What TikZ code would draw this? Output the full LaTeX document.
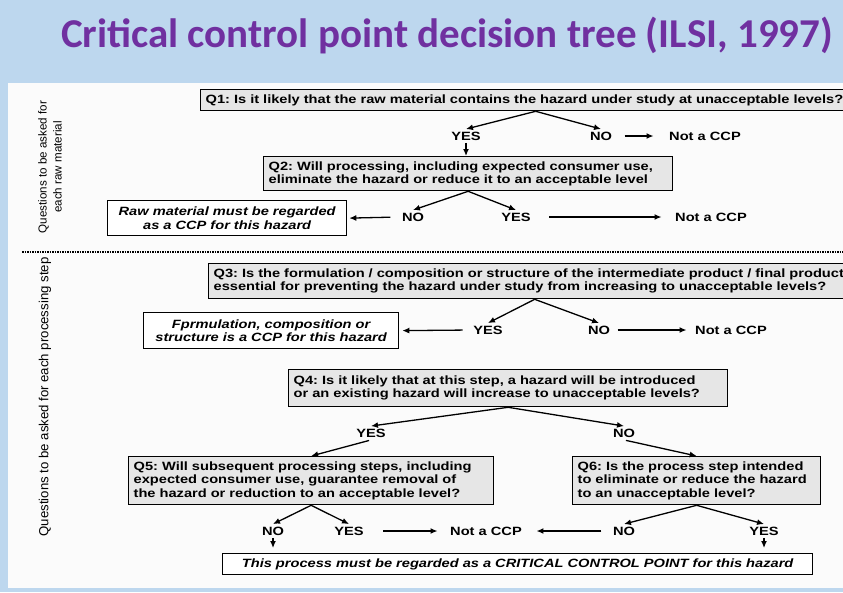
\documentclass[tikz,border=0pt]{standalone}
\usepackage{fontspec}
\usepackage{tikz}
\usetikzlibrary{arrows.meta}
\newfontfamily\arialfont[FakeStretch=1.22]{Liberation Sans}
\newfontfamily\sidefont{Liberation Sans}
\newfontfamily\titlefont{Carlito}
\definecolor{fond}{HTML}{BDD7EE}
\definecolor{titre}{HTML}{7030A0}
\definecolor{boite}{HTML}{E6E6E6}
\definecolor{panneau}{HTML}{FBFBFB}
\frenchspacing

\begin{document}
\begin{tikzpicture}[x=1pt, y=-1pt,
    qbox/.style={draw, line width=1.3pt, fill=boite, anchor=north west, align=left,
      inner xsep=5pt, inner ysep=0pt, font=\arialfont\bfseries\fontsize{12}{13.3}\selectfont},
    abox/.style={draw, line width=1.3pt, fill=white, anchor=north west, align=center,
      inner sep=0pt, font=\arialfont\bfseries\itshape\fontsize{12}{13.3}\selectfont},
    rep/.style={font=\arialfont\bfseries\fontsize{12}{13}\selectfont, inner sep=2.5pt},
    fleche/.style={-{Latex[length=7pt,width=6pt]}, line width=1.3pt}]
    \useasboundingbox (0,0) rectangle (843,592);
    \clip (0,0) rectangle (843,592);
    \fill[fond] (0,0) rectangle (843,592);
    \fill[panneau] (8,83) rectangle (850,588);
    \node[titre, font=\titlefont\bfseries\fontsize{41}{46}\selectfont] (title) at (447,36)
      {Critical control point decision tree (ILSI, 1997)};
    \node[rotate=90, align=center, font=\sidefont\fontsize{11.6}{15}\selectfont] (side1) at (50,167)
      {Questions to be asked for\\each raw material};
    \node[rotate=90, font=\sidefont\fontsize{13.2}{15}\selectfont] (side2) at (45,397)
      {Questions to be asked for each processing step};
    \draw[line width=1.6pt, dash pattern=on 1.6pt off 0.9pt] (22,252) -- (850,252);
    % raw material
    \node[qbox, text width=660pt, minimum height=21pt] (q1) at (200,89)
      {\mbox{Q1: Is it likely that the raw material contains the hazard under study at unacceptable levels?}};
    \node[rep] (yes1) at (466,136) {YES};
    \node[rep] (no1) at (601,136) {NO};
    \node[rep] (ncp1) at (705,136) {Not a CCP};
    \node[qbox, text width=399pt, minimum height=34pt] (q2) at (263,156)
      {Q2: Will processing, including expected consumer use,\\eliminate the hazard or reduce it to an acceptable level};
    \node[abox, text width=239pt, minimum height=35pt] (raw) at (107,200)
      {Raw material must be regarded\\as a CCP for this hazard};
    \node[rep] (no2) at (413,217) {NO};
    \node[rep] (yes2) at (516,217) {YES};
    \node[rep] (ncp2) at (711,217) {Not a CCP};
    \draw[fleche] (q1.south) -- (yes1.north);
    \draw[fleche] (q1.south) -- (no1.north);
    \draw[fleche, shorten <=10pt, shorten >=13pt] (no1.east) -- (ncp1.west);
    \draw[fleche] (yes1.south) -- (yes1.south |- q2.north);
    \draw[fleche] (q2.south) -- (no2.north);
    \draw[fleche] (q2.south) -- (yes2.north);
    \draw[fleche, shorten <=9pt, shorten >=2pt] (no2.west) -- (raw.east);
    \draw[fleche, shorten <=16pt, shorten >=11pt] (yes2.east) -- (ncp2.west);
    % processing step
    \node[qbox, text width=642pt, minimum height=35pt] (q3) at (208,263)
      {\mbox{Q3: Is the formulation / composition or structure of the intermediate product / final product}\\essential for preventing the hazard under study from increasing to unacceptable levels?};
    \node[abox, text width=255pt, minimum height=36pt] (form) at (143,312)
      {Fprmulation, composition or\\structure is a CCP for this hazard};
    \node[rep] (yes3) at (488,330) {YES};
    \node[rep] (no3) at (599,330) {NO};
    \node[rep] (ncp3) at (731,330) {Not a CCP};
    \draw[fleche] (q3.south) -- (yes3.north);
    \draw[fleche] (q3.south) -- (no3.north);
    \draw[fleche, shorten <=8pt, shorten >=3pt] (yes3.west) -- (form.east);
    \draw[fleche, shorten <=5pt, shorten >=6pt] (no3.east) -- (ncp3.west);
    \node[qbox, text width=429pt, minimum height=37pt] (q4) at (288,369)
      {Q4: Is it likely that at this step, a hazard will be introduced\\or an existing hazard will increase to unacceptable levels?};
    \node[rep] (yes4) at (371,433) {YES};
    \node[rep] (no4) at (624,433) {NO};
    \draw[fleche] (q4.south) -- (yes4.north);
    \draw[fleche] (q4.south) -- (no4.north);
    \node[qbox, text width=355pt, minimum height=48pt] (q5) at (128,456)
      {Q5: Will subsequent processing steps, including\\expected consumer use, guarantee removal of\\the hazard or reduction to an acceptable level?};
    \node[qbox, text width=238pt, minimum height=48pt] (q6) at (572,456)
      {Q6: Is the process step intended\\to eliminate or reduce the hazard\\to an unacceptable level?};
    \draw[fleche, shorten <=2pt] (yes4.south) -- (q5.north);
    \draw[fleche, shorten <=2pt] (no4.south) -- (q6.north);
    \node[rep] (no5) at (273,531) {NO};
    \node[rep] (yes5) at (349,531) {YES};
    \node[rep] (ncp5) at (486,531) {Not a CCP};
    \node[rep] (no6) at (624,531) {NO};
    \node[rep] (yes6) at (764,531) {YES};
    \draw[fleche] (q5.south) -- (no5.north);
    \draw[fleche] (q5.south) -- (yes5.north);
    \draw[fleche] (q6.south) -- (no6.north);
    \draw[fleche] (q6.south) -- (yes6.north);
    \draw[fleche, shorten <=17pt, shorten >=10pt] (yes5.east) -- (ncp5.west);
    \draw[fleche, shorten <=9pt, shorten >=12pt] (no6.west) -- (ncp5.east);
    \node[abox, text width=590pt, minimum height=21pt] (ccp) at (222,553)
      {This process must be regarded as a CRITICAL CONTROL POINT for this hazard};
    \draw[fleche, shorten >=5pt] (no5.south) -- (no5.south |- ccp.north);
    \draw[fleche, shorten >=5pt] (yes6.south) -- (yes6.south |- ccp.north);
\end{tikzpicture}
\end{document}
